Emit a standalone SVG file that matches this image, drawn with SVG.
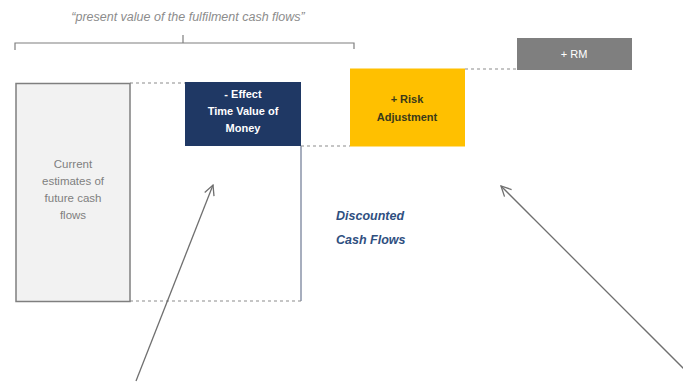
<svg xmlns="http://www.w3.org/2000/svg" width="683" height="382" viewBox="0 0 683 382">
<defs>
<style>
.t{font-family:"Liberation Sans",Arial,sans-serif;text-anchor:middle}
.gray{fill:#7f7f7f;font-size:11.5px}
.white{fill:#ffffff;font-size:11px;font-weight:bold}
.dark{fill:#3a3a1a;font-size:11px;font-weight:bold}
.dash{stroke:#8c8c8c;stroke-width:1.2;stroke-dasharray:3,3;fill:none}
.conn{stroke:#6f6f6f;stroke-width:1.3;fill:none}
.dcf{font-family:"Liberation Sans",Arial,sans-serif;font-size:12.5px;font-style:italic;font-weight:bold;fill:#2f4f7f}
</style>
<marker id="open" viewBox="0 0 12 12" refX="11" refY="6" markerWidth="12" markerHeight="12" markerUnits="userSpaceOnUse" orient="auto">
<path d="M1,1 L11,6 L1,11" fill="none" stroke="#6f6f6f" stroke-width="1.3"/>
</marker>
</defs>
<rect width="683" height="382" fill="#ffffff"/>

<g id="title">
<text class="t" x="188" y="21" style="font-size:12.5px;font-style:italic;fill:#8c8c8c">“present value of the fulfilment cash flows”</text>
<path d="M15,50 V43 H354 V49 M183,43 V35" stroke="#7f7f7f" stroke-width="1.2" fill="none"/>
</g>

<g id="discounted-area">
<line x1="301" y1="146" x2="301" y2="301" stroke="#8a93a8" stroke-width="1.5"/>
<line class="dash" x1="130" y1="83" x2="185" y2="83"/>
<line class="dash" x1="130" y1="301" x2="301" y2="301"/>
<line class="dash" x1="301" y1="146" x2="350" y2="146"/>
<line class="dash" x1="465" y1="69" x2="517" y2="69"/>
<text class="dcf" x="336" y="220">Discounted</text>
<text class="dcf" x="336" y="244">Cash Flows</text>
</g>

<g id="current-estimates">
<rect x="16" y="83.5" width="114" height="218" fill="#f2f2f2" stroke="#7f7f7f" stroke-width="1.5"/>
<text class="t gray" x="73" y="168">Current</text>
<text class="t gray" x="73" y="185">estimates of</text>
<text class="t gray" x="73" y="202">future cash</text>
<text class="t gray" x="73" y="219">flows</text>
</g>

<g id="time-value">
<rect x="185" y="82" width="116" height="64" fill="#1f3864"/>
<text class="t white" x="243" y="98">- Effect</text>
<text class="t white" x="243" y="115">Time Value of</text>
<text class="t white" x="243" y="132">Money</text>
</g>

<g id="risk-adjustment">
<rect x="350" y="68.5" width="115" height="78" fill="#ffc000"/>
<text class="t dark" x="407" y="103">+ Risk</text>
<text class="t dark" x="407" y="121">Adjustment</text>
</g>

<g id="rm">
<rect x="517" y="38" width="115" height="32" fill="#7f7f7f"/>
<text class="t white" x="574" y="58" style="font-weight:normal">+ RM</text>
</g>

<g id="connectors">
<line class="conn" x1="136" y1="381" x2="213" y2="185" marker-end="url(#open)"/>
<line class="conn" x1="690" y1="375" x2="501" y2="186" marker-end="url(#open)"/>
</g>
</svg>
